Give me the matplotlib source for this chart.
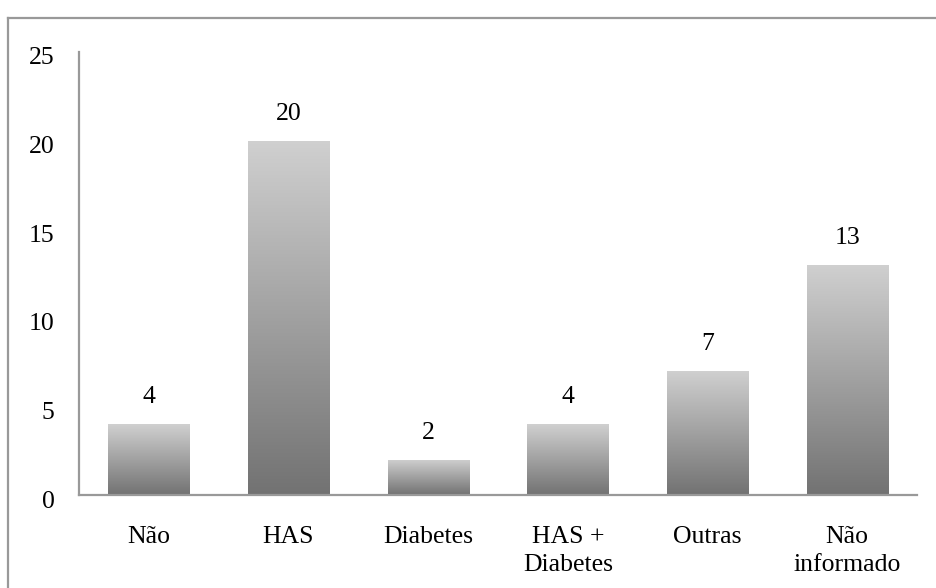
import numpy as np
import matplotlib as mpl; mpl.use("Agg")
import matplotlib.pyplot as plt
from matplotlib.colors import LinearSegmentedColormap
from matplotlib.lines import Line2D
from matplotlib.transforms import ScaledTranslation

# Data
categories = ["Não", "HAS", "Diabetes", "HAS +\nDiabetes", "Outras", "Não\ninformado"]
values = [4, 20, 2, 4, 7, 13]
yticks_vals = [0, 5, 10, 15, 20, 25]

plt.rcParams["font.family"] = ["Liberation Serif", "DejaVu Serif"]
FS = 18.5

W, H = 937, 588
fig = plt.figure(figsize=(W / 100, H / 100), dpi=100)
ax = fig.add_axes([79 / W, 1 - 495 / H, (917 - 79) / W, (495 - 52) / H])

x = np.arange(len(categories))
bars = ax.bar(x, values, width=0.58, color="none", edgecolor="none", zorder=2)

# vertical grey gradient inside each bar, light at the top
grad_cmap = LinearSegmentedColormap.from_list("bar", ["#727272", "#d0d0d0"])
grad = np.linspace(0, 1, 256).reshape(-1, 1)
for rect in bars:
    x0, w, h = rect.get_x(), rect.get_width(), rect.get_height()
    im = ax.imshow(grad, extent=[x0, x0 + w, 0, h], origin="lower",
                   aspect="auto", cmap=grad_cmap, zorder=2)
    im.set_clip_path(rect)
    ax.annotate(str(int(h)), (x0 + w / 2, h), xytext=(0, 15),
                textcoords="offset points", ha="center", va="baseline",
                fontsize=FS, color="black")

ax.set_xlim(-0.5, len(categories) - 0.5)
ax.set_ylim(0, 25)
ax.set_yticks(yticks_vals)
ax.set_xticks(x)
ax.set_xticklabels(categories, fontsize=FS, linespacing=1.4)
ax.tick_params(axis="y", length=0, pad=17.5, labelsize=FS)
ax.tick_params(axis="x", length=0, pad=22)

# y labels sit a little below their gridline positions
shift = ScaledTranslation(0, -4 / 100, fig.dpi_scale_trans)
for lbl in ax.get_yticklabels():
    lbl.set_transform(lbl.get_transform() + shift)

for side in ["top", "right"]:
    ax.spines[side].set_visible(False)
for side in ["left", "bottom"]:
    ax.spines[side].set_color("#999999")
    ax.spines[side].set_linewidth(1.6)

# outer frame, open on the right and bottom
fx, fy = 8.5 / W, 1 - 17.5 / H
fig.add_artist(Line2D([fx, fx], [0, fy], color="#999999", lw=1.6, transform=fig.transFigure))
fig.add_artist(Line2D([fx, 1], [fy, fy], color="#999999", lw=1.6, transform=fig.transFigure))

fig.savefig("out.png", dpi=100)
